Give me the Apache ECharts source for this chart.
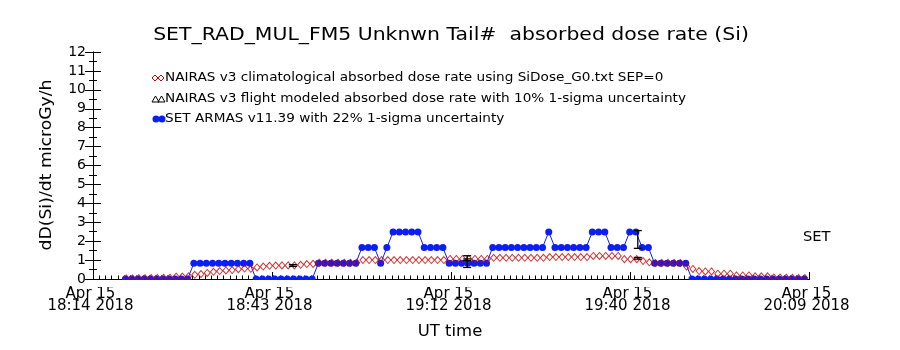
<!DOCTYPE html>
<html>
<head>
<meta charset="utf-8">
<script src="https://cdn.jsdelivr.net/npm/echarts@6/dist/echarts.min.js"></script>
<style>
html,body{margin:0;padding:0;background:#fff;}
#chart{width:900px;height:350px;}
</style>
</head>
<body>
<div id="chart"></div>
<script>
// ---- data (minutes after Apr 15 18:14 2018) ----
const xTickLabels = ['Apr 15\n18:14 2018', 'Apr 15\n18:43 2018', 'Apr 15\n19:12 2018', 'Apr 15\n19:40 2018', 'Apr 15\n20:09 2018'];
const xMin = 0, xMax = 115, xTickStep = 28.75, xMinorStep = 1;
const yTickLabels = ['0','1','2','3','4','5','6','7','8','9','10','11','12'];
const yMin = 0, yMax = 12, yTickStep = 1, yMinorStep = 0.5;

// SET ARMAS v11.39 dose rate, one sample per minute
const armasStart = 5.2;
const armasDose = [
  0,0,0,0,0,0,0,0,0,0,0,
  0.83,0.83,0.83,0.83,0.83,0.83,0.83,0.83,0.83,0.83,
  0,0,0,0,0,0,0,0,0,0,
  0.83,0.83,0.83,0.83,0.83,0.83,0.83,
  1.66,1.66,1.66,
  0.83,
  1.66,
  2.49,2.49,2.49,2.49,2.49,
  1.66,1.66,1.66,1.66,
  0.83,0.83,0.83,0.83,0.83,0.83,0.83,
  1.66,1.66,1.66,1.66,1.66,1.66,1.66,1.66,1.66,
  2.49,
  1.66,1.66,1.66,1.66,1.66,1.66,
  2.49,2.49,2.49,
  1.66,1.66,1.66,
  2.49,2.49,
  1.66,1.66,
  0.83,0.83,0.83,0.83,0.83,0.83,
  0,0,0,0,0,0,0,0,0,0,0,0,0,0,0,0,0,0,0
];

// NAIRAS v3 climatological dose rate, one sample per minute
const nairasStart = 5.35;
const nairasDose = [
  0.03,0.03,0.04,0.04,0.05,0.05,0.06,0.07,0.12,0.13,
  0.15,
  0.22,0.26,0.32,0.38,0.42,0.45,0.47,0.52,0.55,0.54,
  0.61,0.66,0.70,0.71,0.72,0.72,0.72,0.75,0.79,0.80,
  0.86,0.86,0.86,0.86,0.86,0.86,0.86,
  1.0,1.0,1.0,1.0,1.0,1.0,1.0,1.0,1.0,1.0,1.0,1.0,1.0,1.0,
  1.06,1.06,1.06,1.06,1.06,1.06,1.06,
  1.12,1.12,1.12,1.12,1.12,1.12,1.12,1.12,1.12,
  1.16,1.16,1.16,1.16,1.16,1.16,1.16,
  1.22,1.22,1.22,1.22,1.22,
  1.05,1.05,1.05,
  0.95,0.88,
  0.85,0.85,0.85,0.85,0.85,
  0.66,
  0.53,0.42,0.40,0.40,0.28,0.28,0.28,0.19,0.19,0.19,0.14,0.14,0.14,0.08,0.08,0.07,0.06,0.05,0.05
];

// ARMAS 22% uncertainty bars
const armasErrTime = [60.1, 87.5];
const armasErrLow  = [0.61, 1.62];
const armasErrHigh = [1.23, 2.56];

// NAIRAS flight modeled points with 10% uncertainty
const flightTime = [32.1, 60.1, 87.5];
const flightLow  = [0.67, 0.97, 1.05];
const flightHigh = [0.76, 1.06, 1.14];

// ---- chart ----
const BLUE = '#0a1ef5';
const RED = '#c80000';
const FONT = 'DejaVu Sans';

const armasData = armasDose.map((v, i) => [armasStart + i, v]);
const nairasData = nairasDose.map((v, i) => [nairasStart + i, v]);
const armasErrData = armasErrTime.map((t, i) => [t, armasErrLow[i], armasErrHigh[i]]);
const flightErrData = flightTime.map((t, i) => [t, flightLow[i], flightHigh[i]]);

function errorBar(capHalf) {
  return function (params, api) {
    const x = api.value(0);
    const lo = api.coord([x, api.value(1)]);
    const hi = api.coord([x, api.value(2)]);
    const st = { stroke: '#000', lineWidth: 1.3 };
    return {
      type: 'group',
      children: [
        { type: 'line', shape: { x1: lo[0], y1: lo[1], x2: hi[0], y2: hi[1] }, style: st },
        { type: 'line', shape: { x1: lo[0] - capHalf, y1: lo[1], x2: lo[0] + capHalf, y2: lo[1] }, style: st },
        { type: 'line', shape: { x1: hi[0] - capHalf, y1: hi[1], x2: hi[0] + capHalf, y2: hi[1] }, style: st }
      ]
    };
  };
}

function label(x, y, text, size, sx, extra) {
  return Object.assign({
    type: 'text', z: 101, x: x, y: y, scaleX: sx || 1,
    style: { x: 0, y: 0, text: text, fontFamily: FONT, fontSize: size, fill: '#000', align: 'left', verticalAlign: 'middle' }
  }, extra || {});
}

function axis(kind, grid, pos, step, tickLen, showLine, labelOpt) {
  return {
    type: 'value', gridIndex: grid, position: pos,
    min: kind === 'x' ? xMin : yMin, max: kind === 'x' ? xMax : yMax, interval: step,
    axisLine: { show: showLine, lineStyle: { color: '#000', width: 1 } },
    axisTick: { show: true, inside: true, length: tickLen, lineStyle: { color: '#000', width: 1 } },
    splitLine: { show: false },
    axisLabel: labelOpt || { show: false }
  };
}

const GRID = { left: 93, right: 91, top: 52, bottom: 71 };

const chart = echarts.init(document.getElementById('chart'), null, { renderer: 'canvas' });
chart.setOption({
  animation: false,
  backgroundColor: '#fff',
  grid: [Object.assign({}, GRID), Object.assign({}, GRID)],
  xAxis: [
    axis('x', 0, 'bottom', xTickStep, 7, true, {
      show: true, margin: 9, color: '#000', fontFamily: FONT, fontSize: 15, lineHeight: 12,
      padding: [0, 5, 0, 0],
      formatter: v => xTickLabels[Math.round(v / xTickStep)] || ''
    }),
    axis('x', 0, 'top', xTickStep, 7, true),
    axis('x', 1, 'bottom', xMinorStep, 3.5, false),
    axis('x', 1, 'top', xMinorStep, 3.5, false)
  ],
  yAxis: [
    axis('y', 0, 'left', yTickStep, 8, true, {
      show: true, margin: 7, color: '#000', fontFamily: FONT, fontSize: 14,
      formatter: v => yTickLabels[Math.round(v)]
    }),
    axis('y', 0, 'right', yTickStep, 8, true),
    axis('y', 1, 'left', yMinorStep, 4, false),
    axis('y', 1, 'right', yMinorStep, 4, false)
  ],
  series: [
    {
      name: 'SET ARMAS', type: 'line', data: armasData, xAxisIndex: 0, yAxisIndex: 0,
      symbol: 'circle', symbolSize: 7, showSymbol: true,
      itemStyle: { color: BLUE },
      lineStyle: { color: BLUE, width: 1 },
      z: 2
    },
    {
      name: 'NAIRAS climatological', type: 'scatter', data: nairasData, xAxisIndex: 0, yAxisIndex: 0,
      symbol: 'diamond', symbolSize: [6, 7],
      itemStyle: { color: 'rgba(0,0,0,0)', borderColor: RED, borderWidth: 1 },
      z: 3
    },
    {
      name: 'ARMAS uncertainty', type: 'custom', data: armasErrData, xAxisIndex: 0, yAxisIndex: 0,
      renderItem: errorBar(4), z: 4
    },
    {
      name: 'NAIRAS flight modeled', type: 'custom', data: flightErrData, xAxisIndex: 0, yAxisIndex: 0,
      renderItem: errorBar(4), z: 4
    }
  ],
  graphic: [
    // cover marker spill below the x axis
    { type: 'rect', z: 100, shape: { x: 88, y: 280, width: 730, height: 7 }, style: { fill: '#fff' } },
    // title
    label(451, 36, '', 17, 1.2, { style: { x: 0, y: 0, text: 'SET_RAD_MUL_FM5 Unknwn Tail#  absorbed dose rate (Si)', fontFamily: FONT, fontSize: 17, fill: '#000', align: 'center', verticalAlign: 'middle' } }),
    // axis names
    { type: 'text', z: 101, x: 47, y: 165, rotation: Math.PI / 2, scaleX: 1.15, style: { x: 0, y: 0, text: 'dD(Si)/dt microGy/h', fontFamily: FONT, fontSize: 15, fill: '#000', align: 'center', verticalAlign: 'middle' } },
    { type: 'text', z: 101, x: 450, y: 332, scaleX: 1.1, style: { x: 0, y: 0, text: 'UT time', fontFamily: FONT, fontSize: 15, fill: '#000', align: 'center', verticalAlign: 'middle' } },
    label(803, 237, 'SET', 14, 1.05),
    // legend row 1
    { type: 'polygon', z: 101, shape: { points: [[152,78],[155,75],[158,78],[155,81]] }, style: { fill: 'none', stroke: RED, lineWidth: 1 } },
    { type: 'polygon', z: 101, shape: { points: [[158,78],[161,75],[164,78],[161,81]] }, style: { fill: 'none', stroke: RED, lineWidth: 1 } },
    label(165, 78, 'NAIRAS v3 climatological absorbed dose rate using SiDose_G0.txt SEP=0', 12.5, 1.09),
    // legend row 2
    { type: 'polygon', z: 101, shape: { points: [[152,102],[155.5,96],[159,102]] }, style: { fill: 'none', stroke: '#000', lineWidth: 1 } },
    { type: 'polygon', z: 101, shape: { points: [[158,102],[161.5,96],[165,102]] }, style: { fill: 'none', stroke: '#000', lineWidth: 1 } },
    label(165, 99, 'NAIRAS v3 flight modeled absorbed dose rate with 10% 1-sigma uncertainty', 12.5, 1.09),
    // legend row 3
    { type: 'line', z: 101, shape: { x1: 155, y1: 119, x2: 164, y2: 119 }, style: { stroke: BLUE, lineWidth: 1 } },
    { type: 'circle', z: 101, shape: { cx: 156, cy: 119, r: 3.5 }, style: { fill: BLUE } },
    { type: 'circle', z: 101, shape: { cx: 162, cy: 119, r: 3.5 }, style: { fill: BLUE } },
    label(165, 119, 'SET ARMAS v11.39 with 22% 1-sigma uncertainty', 12.5, 1.09, { z: 102 })
  ]
});
</script>
</body>
</html>
